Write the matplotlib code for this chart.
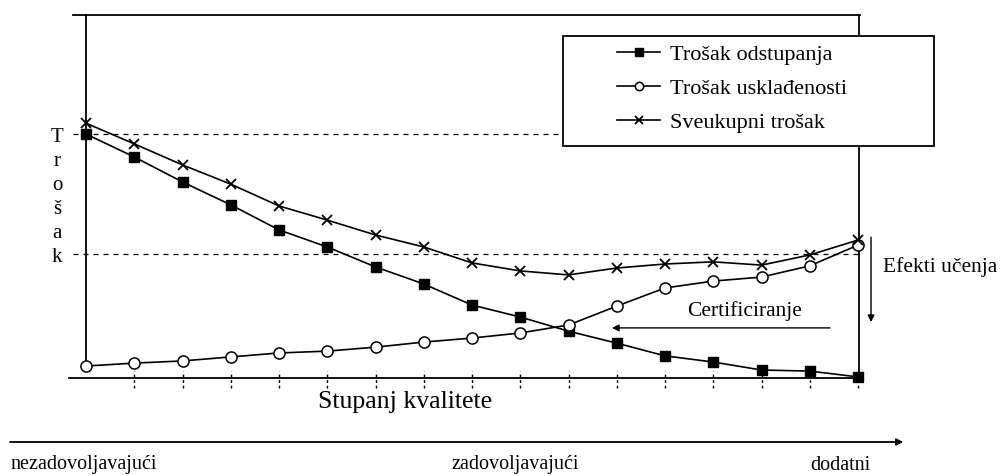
import matplotlib.pyplot as plt
from matplotlib.patches import Rectangle

# stupanj kvalitete (0..16) i troškovi (relativne jedinice, 0-100 = visina okvira)
stupanj = list(range(17))
trosak_odstupanja = [67.2, 60.9, 54.0, 47.7, 40.8, 36.1, 30.6, 25.9, 20.1,
                     16.8, 12.9, 9.6, 6.1, 4.4, 2.2, 1.9, 0.3]
trosak_uskladenosti = [3.3, 4.1, 4.7, 5.8, 6.9, 7.4, 8.5, 9.9, 11.0,
                       12.4, 14.6, 19.8, 24.8, 26.7, 27.8, 30.9, 36.6]
sveukupni_trosak = [70.2, 64.5, 58.7, 53.4, 47.4, 43.5, 39.4, 36.1, 31.7,
                    29.5, 28.4, 30.3, 31.4, 32.0, 31.1, 33.9, 38.0]
razina_T = 67.2
razina_k = 34.2
nazivi = ['Trošak odstupanja', 'Trošak usklađenosti', 'Sveukupni trošak']
os_slova = ['T', 'r', 'o', 'š', 'a', 'k']
donje_oznake = ['nezadovoljavajući', 'zadovoljavajući', 'dodatni']

W, H = 1005, 475
serif = 'Liberation Serif'
fig = plt.figure(figsize=(W / 100, H / 100), dpi=100)
fig.patch.set_facecolor('white')


def fx(px):
    return px / W


def fy(py):
    return 1 - py / H


ax = fig.add_axes([fx(86), fy(378), fx(858 - 86), (378 - 15) / H])
ax.set_xlim(0, 16)
ax.set_ylim(0, 100)
ax.axis('off')

lw = 1.2
l1, = ax.plot(stupanj, trosak_odstupanja, '-s', color='black', lw=lw, ms=7,
              clip_on=False, zorder=4)
l2, = ax.plot(stupanj, trosak_uskladenosti, '-o', color='black', lw=lw, ms=8,
              mfc='white', mew=1.1, clip_on=False, zorder=4)
l3, = ax.plot(stupanj, sveukupni_trosak, '-x', color='black', lw=lw, ms=7,
              mew=1.3, clip_on=False, zorder=4)

# okvir
ax.plot([-0.27, 16.04], [100, 100], color='black', lw=1.3, clip_on=False)
ax.plot([-0.35, 16.04], [0, 0], color='black', lw=1.3, clip_on=False)
ax.plot([0, 0], [100, trosak_uskladenosti[0]], color='black', lw=1.3, clip_on=False)
ax.plot([16.02, 16.02], [100, 0], color='black', lw=1.3, clip_on=False)

# isprekidane razine
ax.plot([-0.27, 16], [razina_T, razina_T], color='black', lw=0.9,
        ls=(0, (4, 4)), clip_on=False)
ax.plot([-0.27, 16], [razina_k, razina_k], color='black', lw=0.9,
        ls=(0, (4, 4)), clip_on=False)

# crtice ispod osi
ax.vlines(stupanj[1:], -2.8, 1.9, color='black', lw=1.0, ls=(0, (2, 2)),
          clip_on=False)

# slova osi y
for i, s in enumerate(os_slova):
    fig.text(fx(57), fy(138 + i * 23.8), s, family=serif, fontsize=15,
             ha='center', va='center')

# strelice i natpisi
ax.annotate('', xy=(10.9, 13.8), xytext=(15.42, 13.8),
            arrowprops=dict(arrowstyle='-|>', color='black', lw=1.0,
                            mutation_scale=10, shrinkA=0, shrinkB=0),
            annotation_clip=False)
ax.text(13.64, 18.4, 'Certificiranje', family=serif, fontsize=15.5,
        ha='center', va='center')
ax.annotate('', xy=(16.27, 15.4), xytext=(16.27, 38.8),
            arrowprops=dict(arrowstyle='-|>', color='black', lw=1.0,
                            mutation_scale=10, shrinkA=0, shrinkB=0),
            annotation_clip=False)
ax.text(16.52, 30.6, 'Efekti učenja', family=serif, fontsize=15.5,
        ha='left', va='center')

fig.text(fx(405), fy(402), 'Stupanj kvalitete', family=serif, fontsize=18.5,
         ha='center', va='center')

fig.add_artist(plt.annotate('', xy=(903, H - 442), xytext=(10, H - 442),
                            xycoords='figure pixels', textcoords='figure pixels',
                            arrowprops=dict(arrowstyle='-|>', color='black', lw=1.0,
                                            mutation_scale=10, shrinkA=0, shrinkB=0)))
fig.text(fx(10), fy(465), donje_oznake[0], family=serif, fontsize=14.5,
         ha='left', va='center')
fig.text(fx(515), fy(465), donje_oznake[1], family=serif, fontsize=14.5,
         ha='center', va='center')
fig.text(fx(840), fy(465), donje_oznake[2], family=serif, fontsize=14.5,
         ha='center', va='center')

# legenda
box = Rectangle((fx(563), fy(146)), fx(934 - 563), (146 - 36) / H,
                transform=fig.transFigure, facecolor='white', edgecolor='black',
                lw=1.3, zorder=3)
fig.add_artist(box)
leg = fig.legend([l1, l2, l3], nazivi, loc='upper left',
                 bbox_to_anchor=(fx(617), fy(44)), frameon=False,
                 prop={'family': serif, 'size': 16}, handlelength=1.95,
                 handletextpad=0.45, labelspacing=0.62, borderpad=0,
                 borderaxespad=0, markerscale=0.75)
leg.set_zorder(6)

fig.savefig('out.png', dpi=100, facecolor='white')
